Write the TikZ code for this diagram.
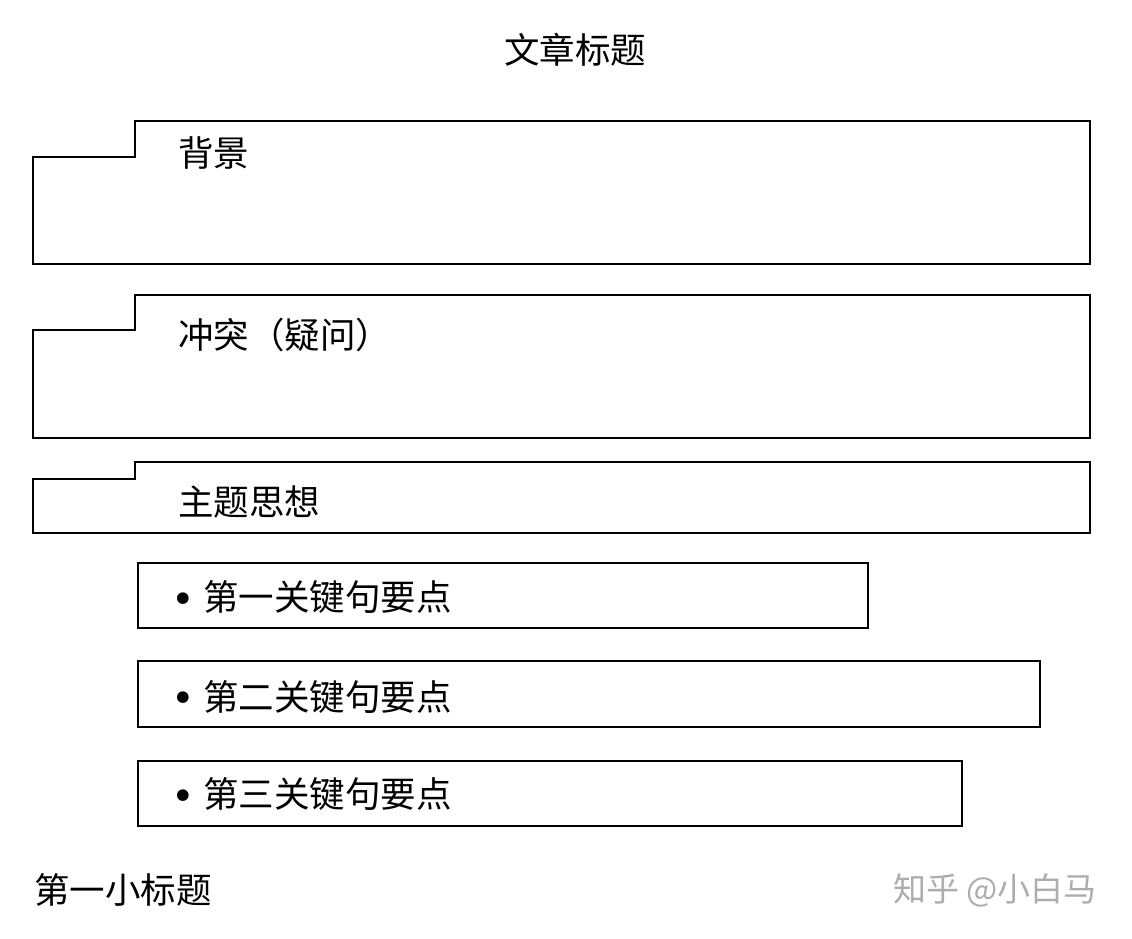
\documentclass[tikz,border=0pt]{standalone}
\usepackage{fontspec}
\setmainfont{Noto Sans CJK SC}
\newfontfamily\dejavu{DejaVu Sans}
\begin{document}
\begin{tikzpicture}[x=1pt,y=-1pt,
  frame/.style={draw=black,line width=1.5pt,line join=miter},
  label/.style={anchor=west,inner sep=0pt,font=\fontsize{35.5}{40}\selectfont},
  bul/.style={inner sep=0pt,font=\dejavu\fontsize{40}{40}\selectfont},
  wm/.style={anchor=west,inner sep=0pt,font=\fontsize{33}{38}\selectfont,text=black!32}]
\useasboundingbox[fill=white] (0,0) rectangle (1132,939);
% title
\node[inner sep=0pt,font=\fontsize{35.5}{40}\selectfont] (title) at (575,50) {文章标题};
% tabbed boxes
\draw[frame] (33,264) -- (33,157) -- (135,157) -- (135,121) -- (1090,121) -- (1090,264) -- cycle;
\node[label] (bg) at (178,153) {背景};
\draw[frame] (33,438) -- (33,330) -- (135,330) -- (135,295) -- (1090,295) -- (1090,438) -- cycle;
\node[label] (ct) at (178,335) {冲突（疑问）};
\draw[frame] (33,533) -- (33,479) -- (135,479) -- (135,462) -- (1090,462) -- (1090,533) -- cycle;
\node[label] (zt) at (178,502) {主题思想};
% key points
\draw[frame] (138,563) rectangle (868,628);
\node[bul] (b1) at (183,603) {•};
\node[label] (k1) at (203,597) {第一关键句要点};
\draw[frame] (138,661) rectangle (1040,727);
\node[bul] (b2) at (183,702) {•};
\node[label] (k2) at (203,697) {第二关键句要点};
\draw[frame] (138,761) rectangle (962,826);
\node[bul] (b3) at (183,800) {•};
\node[label] (k3) at (203,794) {第三关键句要点};
% subtitle
\node[label] (sub) at (34,890) {第一小标题};
% watermark
\node[wm] (mark) at (893,890) {知乎 @小白马};
\end{tikzpicture}
\end{document}
